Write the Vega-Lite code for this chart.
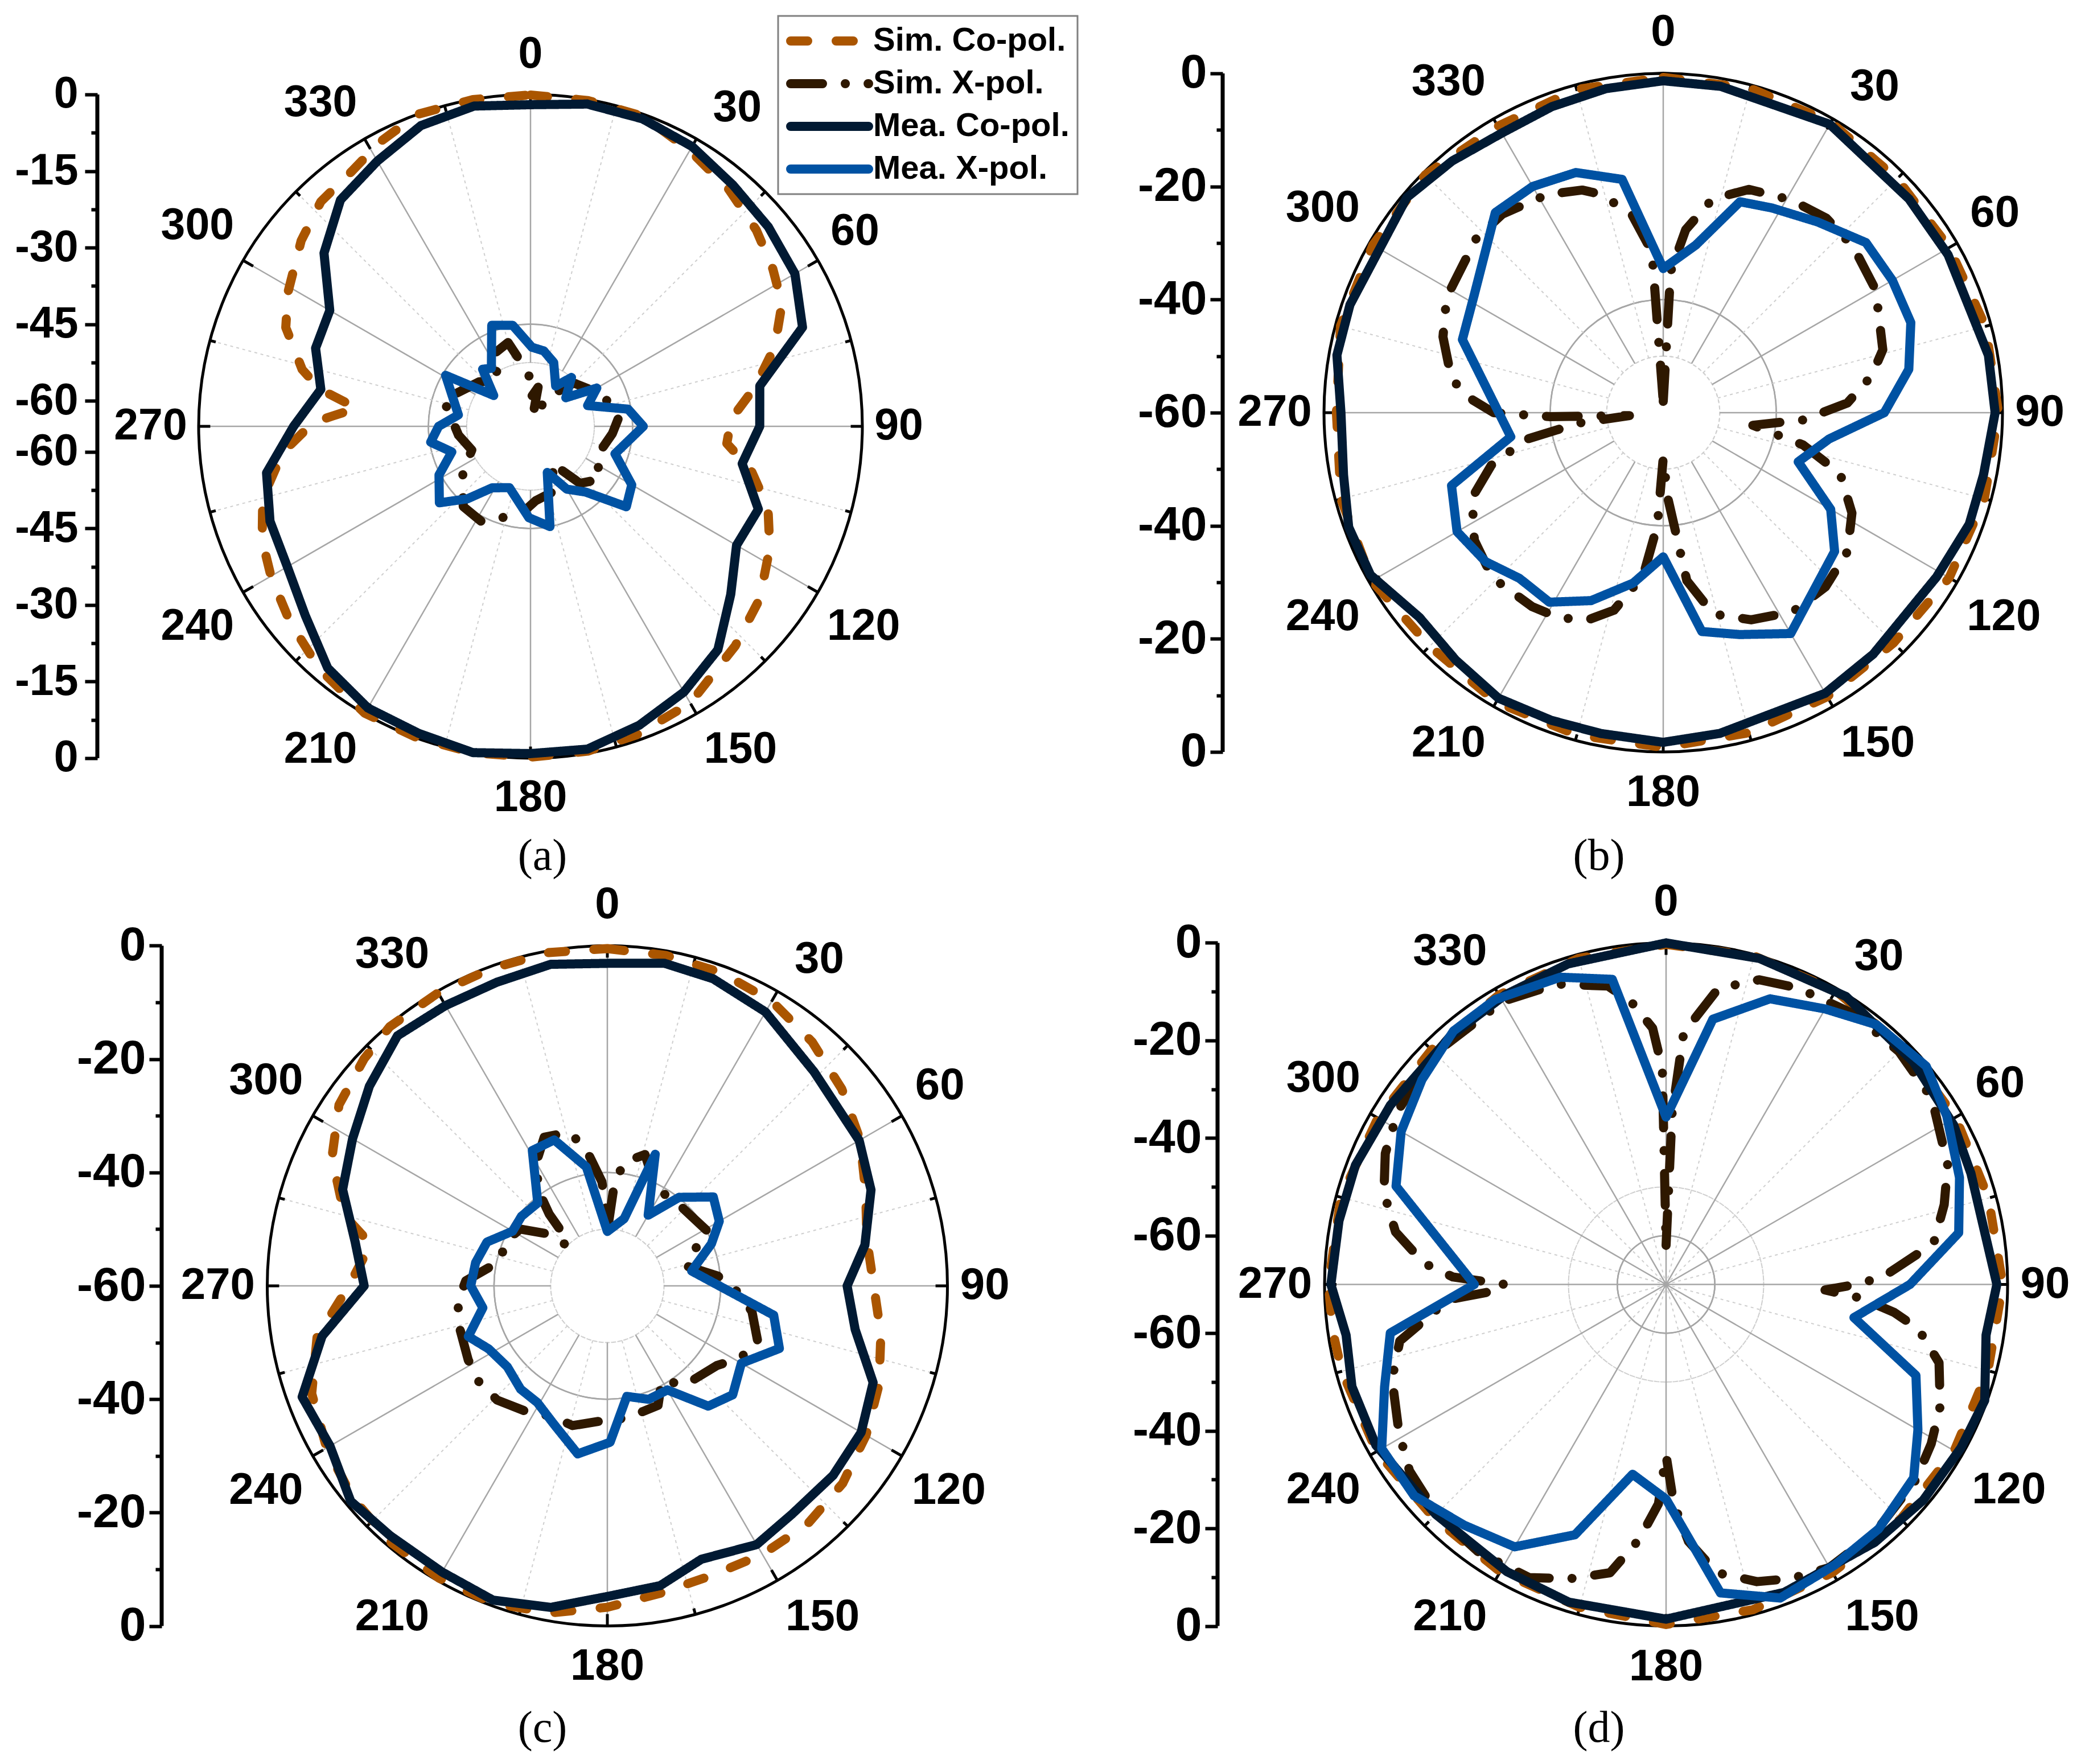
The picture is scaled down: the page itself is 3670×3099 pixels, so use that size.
{
"$schema":"https://vega.github.io/schema/vega-lite/v6.json",
"background":"white",
"padding":0,
"columns":2,
"spacing":0,
"bounds":"flush",
"resolve":{"scale":{"x":"independent","y":"independent","radius":"independent","color":"shared","strokeDash":"shared"},"legend":{"color":"shared","strokeDash":"shared"}},
"config":{"view":{"stroke":null},"font":"Liberation Sans","legend":{"strokeWidth":3}},
"datasets":{
"ang30":[{"angle":0},{"angle":30},{"angle":60},{"angle":90},{"angle":120},{"angle":150},{"angle":180},{"angle":210},{"angle":240},{"angle":270},{"angle":300},{"angle":330}],
"ang15":[{"angle":15},{"angle":45},{"angle":75},{"angle":105},{"angle":135},{"angle":165},{"angle":195},{"angle":225},{"angle":255},{"angle":285},{"angle":315},{"angle":345}],
"angall":[{"angle":0},{"angle":15},{"angle":30},{"angle":45},{"angle":60},{"angle":75},{"angle":90},{"angle":105},{"angle":120},{"angle":135},{"angle":150},{"angle":165},{"angle":180},{"angle":195},{"angle":210},{"angle":225},{"angle":240},{"angle":255},{"angle":270},{"angle":285},{"angle":300},{"angle":315},{"angle":330},{"angle":345}],
"curves":[
{"panel":"a","series":"Sim. Co-pol.","angle":0,"dB":-0.1},{"panel":"a","series":"Sim. Co-pol.","angle":10,"dB":-0.2},{"panel":"a","series":"Sim. Co-pol.","angle":20,"dB":-0.4},{"panel":"a","series":"Sim. Co-pol.","angle":30,"dB":-2.6},{"panel":"a","series":"Sim. Co-pol.","angle":40,"dB":-4.5},{"panel":"a","series":"Sim. Co-pol.","angle":49,"dB":-6.4},{"panel":"a","series":"Sim. Co-pol.","angle":57,"dB":-8.4},{"panel":"a","series":"Sim. Co-pol.","angle":64,"dB":-10.2},{"panel":"a","series":"Sim. Co-pol.","angle":72,"dB":-14.7},{"panel":"a","series":"Sim. Co-pol.","angle":80,"dB":-20.3},{"panel":"a","series":"Sim. Co-pol.","angle":88,"dB":-25.7},{"panel":"a","series":"Sim. Co-pol.","angle":95,"dB":-26.4},{"panel":"a","series":"Sim. Co-pol.","angle":101,"dB":-21.1},{"panel":"a","series":"Sim. Co-pol.","angle":109,"dB":-15.8},{"panel":"a","series":"Sim. Co-pol.","angle":117,"dB":-12.4},{"panel":"a","series":"Sim. Co-pol.","angle":127,"dB":-8.8},{"panel":"a","series":"Sim. Co-pol.","angle":137,"dB":-6.2},{"panel":"a","series":"Sim. Co-pol.","angle":150,"dB":-2.4},{"panel":"a","series":"Sim. Co-pol.","angle":161,"dB":-1.1},{"panel":"a","series":"Sim. Co-pol.","angle":170,"dB":-0.4},{"panel":"a","series":"Sim. Co-pol.","angle":180,"dB":-0.2},{"panel":"a","series":"Sim. Co-pol.","angle":190,"dB":-0.1},{"panel":"a","series":"Sim. Co-pol.","angle":200,"dB":-0.1},{"panel":"a","series":"Sim. Co-pol.","angle":210,"dB":-0.1},{"panel":"a","series":"Sim. Co-pol.","angle":221,"dB":-2.0},{"panel":"a","series":"Sim. Co-pol.","angle":231,"dB":-4.3},{"panel":"a","series":"Sim. Co-pol.","angle":240,"dB":-6.3},{"panel":"a","series":"Sim. Co-pol.","angle":247,"dB":-7.9},{"panel":"a","series":"Sim. Co-pol.","angle":255,"dB":-10.7},{"panel":"a","series":"Sim. Co-pol.","angle":264,"dB":-16.2},{"panel":"a","series":"Sim. Co-pol.","angle":271,"dB":-22.4},{"panel":"a","series":"Sim. Co-pol.","angle":273,"dB":-26.2},{"panel":"a","series":"Sim. Co-pol.","angle":276,"dB":-30.8},{"panel":"a","series":"Sim. Co-pol.","angle":280,"dB":-23.1},{"panel":"a","series":"Sim. Co-pol.","angle":284,"dB":-18.9},{"panel":"a","series":"Sim. Co-pol.","angle":292,"dB":-13.3},{"panel":"a","series":"Sim. Co-pol.","angle":299,"dB":-10.7},{"panel":"a","series":"Sim. Co-pol.","angle":309,"dB":-7.2},{"panel":"a","series":"Sim. Co-pol.","angle":317,"dB":-4.8},{"panel":"a","series":"Sim. Co-pol.","angle":325,"dB":-4.0},{"panel":"a","series":"Sim. Co-pol.","angle":332,"dB":-2.0},{"panel":"a","series":"Sim. Co-pol.","angle":340,"dB":0},{"panel":"a","series":"Sim. Co-pol.","angle":350,"dB":0},
{"panel":"a","series":"Sim. X-pol.","angle":3,"dB":-59},{"panel":"a","series":"Sim. X-pol.","angle":11,"dB":-57.2},{"panel":"a","series":"Sim. X-pol.","angle":13,"dB":-63},{"panel":"a","series":"Sim. X-pol.","angle":32,"dB":-57.9},{"panel":"a","series":"Sim. X-pol.","angle":45,"dB":-53},{"panel":"a","series":"Sim. X-pol.","angle":66,"dB":-49.6},{"panel":"a","series":"Sim. X-pol.","angle":84,"dB":-47.6},{"panel":"a","series":"Sim. X-pol.","angle":95,"dB":-48.9},{"panel":"a","series":"Sim. X-pol.","angle":115,"dB":-50.8},{"panel":"a","series":"Sim. X-pol.","angle":127,"dB":-47.8},{"panel":"a","series":"Sim. X-pol.","angle":139,"dB":-50.2},{"panel":"a","series":"Sim. X-pol.","angle":150,"dB":-56.7},{"panel":"a","series":"Sim. X-pol.","angle":159,"dB":-51.5},{"panel":"a","series":"Sim. X-pol.","angle":176,"dB":-50.4},{"panel":"a","series":"Sim. X-pol.","angle":182,"dB":-49},{"panel":"a","series":"Sim. X-pol.","angle":196,"dB":-46.5},{"panel":"a","series":"Sim. X-pol.","angle":207,"dB":-44},{"panel":"a","series":"Sim. X-pol.","angle":220,"dB":-44.5},{"panel":"a","series":"Sim. X-pol.","angle":236,"dB":-49},{"panel":"a","series":"Sim. X-pol.","angle":248,"dB":-52.6},{"panel":"a","series":"Sim. X-pol.","angle":263,"dB":-50.8},{"panel":"a","series":"Sim. X-pol.","angle":287,"dB":-47.2},{"panel":"a","series":"Sim. X-pol.","angle":311,"dB":-51.7},{"panel":"a","series":"Sim. X-pol.","angle":326,"dB":-54.2},{"panel":"a","series":"Sim. X-pol.","angle":331,"dB":-49.2},{"panel":"a","series":"Sim. X-pol.","angle":345,"dB":-48},{"panel":"a","series":"Sim. X-pol.","angle":358,"dB":-54.7},
{"panel":"a","series":"Mea. Co-pol.","angle":0,"dB":-2},{"panel":"a","series":"Mea. Co-pol.","angle":10,"dB":-0.9},{"panel":"a","series":"Mea. Co-pol.","angle":20,"dB":-0.9},{"panel":"a","series":"Mea. Co-pol.","angle":30,"dB":-1.7},{"panel":"a","series":"Mea. Co-pol.","angle":40,"dB":-3.3},{"panel":"a","series":"Mea. Co-pol.","angle":50,"dB":-4.2},{"panel":"a","series":"Mea. Co-pol.","angle":60,"dB":-5.2},{"panel":"a","series":"Mea. Co-pol.","angle":70,"dB":-8.3},{"panel":"a","series":"Mea. Co-pol.","angle":80,"dB":-19.4},{"panel":"a","series":"Mea. Co-pol.","angle":90,"dB":-20.1},{"panel":"a","series":"Mea. Co-pol.","angle":100,"dB":-22.9},{"panel":"a","series":"Mea. Co-pol.","angle":110,"dB":-17.5},{"panel":"a","series":"Mea. Co-pol.","angle":120,"dB":-18.4},{"panel":"a","series":"Mea. Co-pol.","angle":130,"dB":-13.8},{"panel":"a","series":"Mea. Co-pol.","angle":140,"dB":-7.9},{"panel":"a","series":"Mea. Co-pol.","angle":150,"dB":-4.9},{"panel":"a","series":"Mea. Co-pol.","angle":160,"dB":-2.7},{"panel":"a","series":"Mea. Co-pol.","angle":170,"dB":-0.8},{"panel":"a","series":"Mea. Co-pol.","angle":180,"dB":-0.9},{"panel":"a","series":"Mea. Co-pol.","angle":190,"dB":-0.1},{"panel":"a","series":"Mea. Co-pol.","angle":200,"dB":-1},{"panel":"a","series":"Mea. Co-pol.","angle":210,"dB":-1.3},{"panel":"a","series":"Mea. Co-pol.","angle":220,"dB":-3.2},{"panel":"a","series":"Mea. Co-pol.","angle":230,"dB":-7.4},{"panel":"a","series":"Mea. Co-pol.","angle":240,"dB":-10},{"panel":"a","series":"Mea. Co-pol.","angle":250,"dB":-10.7},{"panel":"a","series":"Mea. Co-pol.","angle":260,"dB":-12.5},{"panel":"a","series":"Mea. Co-pol.","angle":270,"dB":-18.6},{"panel":"a","series":"Mea. Co-pol.","angle":280,"dB":-23.3},{"panel":"a","series":"Mea. Co-pol.","angle":290,"dB":-20.2},{"panel":"a","series":"Mea. Co-pol.","angle":300,"dB":-19.6},{"panel":"a","series":"Mea. Co-pol.","angle":310,"dB":-12.2},{"panel":"a","series":"Mea. Co-pol.","angle":320,"dB":-7.1},{"panel":"a","series":"Mea. Co-pol.","angle":330,"dB":-5},{"panel":"a","series":"Mea. Co-pol.","angle":340,"dB":-2.3},{"panel":"a","series":"Mea. Co-pol.","angle":350,"dB":-1.3},
{"panel":"a","series":"Mea. X-pol.","angle":1,"dB":-49.5},{"panel":"a","series":"Mea. X-pol.","angle":10,"dB":-50},{"panel":"a","series":"Mea. X-pol.","angle":20,"dB":-51.7},{"panel":"a","series":"Mea. X-pol.","angle":32,"dB":-55.7},{"panel":"a","series":"Mea. X-pol.","angle":40,"dB":-52.5},{"panel":"a","series":"Mea. X-pol.","angle":51,"dB":-56.1},{"panel":"a","series":"Mea. X-pol.","angle":60,"dB":-50},{"panel":"a","series":"Mea. X-pol.","angle":70,"dB":-53.1},{"panel":"a","series":"Mea. X-pol.","angle":80,"dB":-45.6},{"panel":"a","series":"Mea. X-pol.","angle":90,"dB":-42.9},{"panel":"a","series":"Mea. X-pol.","angle":108,"dB":-47.6},{"panel":"a","series":"Mea. X-pol.","angle":120,"dB":-42.1},{"panel":"a","series":"Mea. X-pol.","angle":130,"dB":-40.5},{"panel":"a","series":"Mea. X-pol.","angle":140,"dB":-48.2},{"panel":"a","series":"Mea. X-pol.","angle":150,"dB":-50.8},{"panel":"a","series":"Mea. X-pol.","angle":160,"dB":-55.4},{"panel":"a","series":"Mea. X-pol.","angle":169,"dB":-45},{"panel":"a","series":"Mea. X-pol.","angle":181,"dB":-47.1},{"panel":"a","series":"Mea. X-pol.","angle":199,"dB":-52.3},{"panel":"a","series":"Mea. X-pol.","angle":212,"dB":-50.8},{"panel":"a","series":"Mea. X-pol.","angle":221,"dB":-46.2},{"panel":"a","series":"Mea. X-pol.","angle":230,"dB":-41.7},{"panel":"a","series":"Mea. X-pol.","angle":242,"dB":-44.7},{"panel":"a","series":"Mea. X-pol.","angle":252,"dB":-48.8},{"panel":"a","series":"Mea. X-pol.","angle":261,"dB":-45.2},{"panel":"a","series":"Mea. X-pol.","angle":270,"dB":-47},{"panel":"a","series":"Mea. X-pol.","angle":279,"dB":-50.7},{"panel":"a","series":"Mea. X-pol.","angle":301,"dB":-45.6},{"panel":"a","series":"Mea. X-pol.","angle":310,"dB":-55.6},{"panel":"a","series":"Mea. X-pol.","angle":320,"dB":-50.4},{"panel":"a","series":"Mea. X-pol.","angle":326,"dB":-51.3},{"panel":"a","series":"Mea. X-pol.","angle":339,"dB":-43.8},{"panel":"a","series":"Mea. X-pol.","angle":350,"dB":-44.9},
{"panel":"b","series":"Sim. Co-pol.","angle":0,"dB":-0.7},{"panel":"b","series":"Sim. Co-pol.","angle":15,"dB":-0.6},{"panel":"b","series":"Sim. Co-pol.","angle":30,"dB":-0.7},{"panel":"b","series":"Sim. Co-pol.","angle":45,"dB":-1.5},{"panel":"b","series":"Sim. Co-pol.","angle":60,"dB":-1.6},{"panel":"b","series":"Sim. Co-pol.","angle":75,"dB":-1},{"panel":"b","series":"Sim. Co-pol.","angle":90,"dB":-0.7},{"panel":"b","series":"Sim. Co-pol.","angle":105,"dB":-1.2},{"panel":"b","series":"Sim. Co-pol.","angle":120,"dB":-1.6},{"panel":"b","series":"Sim. Co-pol.","angle":135,"dB":-2.4},{"panel":"b","series":"Sim. Co-pol.","angle":150,"dB":-2},{"panel":"b","series":"Sim. Co-pol.","angle":165,"dB":-1.4},{"panel":"b","series":"Sim. Co-pol.","angle":180,"dB":-0.8},{"panel":"b","series":"Sim. Co-pol.","angle":195,"dB":-1},{"panel":"b","series":"Sim. Co-pol.","angle":210,"dB":-0.9},{"panel":"b","series":"Sim. Co-pol.","angle":225,"dB":-1.6},{"panel":"b","series":"Sim. Co-pol.","angle":240,"dB":-0.5},{"panel":"b","series":"Sim. Co-pol.","angle":255,"dB":-1},{"panel":"b","series":"Sim. Co-pol.","angle":270,"dB":-2.2},{"panel":"b","series":"Sim. Co-pol.","angle":285,"dB":-0.9},{"panel":"b","series":"Sim. Co-pol.","angle":300,"dB":-0.7},{"panel":"b","series":"Sim. Co-pol.","angle":315,"dB":-0.5},{"panel":"b","series":"Sim. Co-pol.","angle":330,"dB":-1.5},{"panel":"b","series":"Sim. Co-pol.","angle":345,"dB":-0.8},
{"panel":"b","series":"Sim. X-pol.","angle":0,"dB":-58},{"panel":"b","series":"Sim. X-pol.","angle":3,"dB":-35},{"panel":"b","series":"Sim. X-pol.","angle":7,"dB":-27.4},{"panel":"b","series":"Sim. X-pol.","angle":13,"dB":-21.2},{"panel":"b","series":"Sim. X-pol.","angle":21,"dB":-17.7},{"panel":"b","series":"Sim. X-pol.","angle":31,"dB":-16.1},{"panel":"b","series":"Sim. X-pol.","angle":40,"dB":-15.1},{"panel":"b","series":"Sim. X-pol.","angle":49,"dB":-15.4},{"panel":"b","series":"Sim. X-pol.","angle":60,"dB":-16.6},{"panel":"b","series":"Sim. X-pol.","angle":74,"dB":-19.6},{"panel":"b","series":"Sim. X-pol.","angle":80,"dB":-22.6},{"panel":"b","series":"Sim. X-pol.","angle":87,"dB":-27.4},{"panel":"b","series":"Sim. X-pol.","angle":93,"dB":-35.3},{"panel":"b","series":"Sim. X-pol.","angle":98,"dB":-44},{"panel":"b","series":"Sim. X-pol.","angle":103,"dB":-34.6},{"panel":"b","series":"Sim. X-pol.","angle":109,"dB":-26.9},{"panel":"b","series":"Sim. X-pol.","angle":118,"dB":-22.2},{"panel":"b","series":"Sim. X-pol.","angle":127,"dB":-19.2},{"panel":"b","series":"Sim. X-pol.","angle":137,"dB":-17.9},{"panel":"b","series":"Sim. X-pol.","angle":147,"dB":-18},{"panel":"b","series":"Sim. X-pol.","angle":157,"dB":-20.2},{"panel":"b","series":"Sim. X-pol.","angle":166,"dB":-23.3},{"panel":"b","series":"Sim. X-pol.","angle":172,"dB":-30},{"panel":"b","series":"Sim. X-pol.","angle":177,"dB":-45},{"panel":"b","series":"Sim. X-pol.","angle":180,"dB":-52},{"panel":"b","series":"Sim. X-pol.","angle":183,"dB":-40},{"panel":"b","series":"Sim. X-pol.","angle":187,"dB":-31},{"panel":"b","series":"Sim. X-pol.","angle":194,"dB":-24},{"panel":"b","series":"Sim. X-pol.","angle":200,"dB":-21},{"panel":"b","series":"Sim. X-pol.","angle":207,"dB":-19.3},{"panel":"b","series":"Sim. X-pol.","angle":214,"dB":-18.6},{"panel":"b","series":"Sim. X-pol.","angle":226,"dB":-18},{"panel":"b","series":"Sim. X-pol.","angle":236,"dB":-19.7},{"panel":"b","series":"Sim. X-pol.","angle":246,"dB":-23},{"panel":"b","series":"Sim. X-pol.","angle":253,"dB":-28.2},{"panel":"b","series":"Sim. X-pol.","angle":259,"dB":-35.4},{"panel":"b","series":"Sim. X-pol.","angle":263,"dB":-45},{"panel":"b","series":"Sim. X-pol.","angle":265,"dB":-54},{"panel":"b","series":"Sim. X-pol.","angle":268,"dB":-40},{"panel":"b","series":"Sim. X-pol.","angle":270,"dB":-30},{"panel":"b","series":"Sim. X-pol.","angle":274,"dB":-26},{"panel":"b","series":"Sim. X-pol.","angle":279,"dB":-22.1},{"panel":"b","series":"Sim. X-pol.","angle":289,"dB":-18.8},{"panel":"b","series":"Sim. X-pol.","angle":298,"dB":-16.6},{"panel":"b","series":"Sim. X-pol.","angle":313,"dB":-14.8},{"panel":"b","series":"Sim. X-pol.","angle":321,"dB":-14.8},{"panel":"b","series":"Sim. X-pol.","angle":332,"dB":-16.3},{"panel":"b","series":"Sim. X-pol.","angle":340,"dB":-18.1},{"panel":"b","series":"Sim. X-pol.","angle":344,"dB":-19.8},{"panel":"b","series":"Sim. X-pol.","angle":351,"dB":-24.5},{"panel":"b","series":"Sim. X-pol.","angle":356,"dB":-31.5},
{"panel":"b","series":"Mea. Co-pol.","angle":0,"dB":-1.3},{"panel":"b","series":"Mea. Co-pol.","angle":10,"dB":-1.4},{"panel":"b","series":"Mea. Co-pol.","angle":30,"dB":-1.1},{"panel":"b","series":"Mea. Co-pol.","angle":49,"dB":-2.4},{"panel":"b","series":"Mea. Co-pol.","angle":61,"dB":-2.4},{"panel":"b","series":"Mea. Co-pol.","angle":80,"dB":-1.6},{"panel":"b","series":"Mea. Co-pol.","angle":90,"dB":-1.3},{"panel":"b","series":"Mea. Co-pol.","angle":101,"dB":-2.3},{"panel":"b","series":"Mea. Co-pol.","angle":110,"dB":-2.4},{"panel":"b","series":"Mea. Co-pol.","angle":121,"dB":-3.6},{"panel":"b","series":"Mea. Co-pol.","angle":139,"dB":-3.4},{"panel":"b","series":"Mea. Co-pol.","angle":150,"dB":-2.7},{"panel":"b","series":"Mea. Co-pol.","angle":170,"dB":-2.4},{"panel":"b","series":"Mea. Co-pol.","angle":180,"dB":-1.7},{"panel":"b","series":"Mea. Co-pol.","angle":191,"dB":-2.2},{"panel":"b","series":"Mea. Co-pol.","angle":200,"dB":-2.1},{"panel":"b","series":"Mea. Co-pol.","angle":210,"dB":-1.7},{"panel":"b","series":"Mea. Co-pol.","angle":220,"dB":-2.9},{"panel":"b","series":"Mea. Co-pol.","angle":230,"dB":-3.7},{"panel":"b","series":"Mea. Co-pol.","angle":241,"dB":-0.8},{"panel":"b","series":"Mea. Co-pol.","angle":250,"dB":-0.8},{"panel":"b","series":"Mea. Co-pol.","angle":259,"dB":-2.4},{"panel":"b","series":"Mea. Co-pol.","angle":270,"dB":-3},{"panel":"b","series":"Mea. Co-pol.","angle":280,"dB":-1.4},{"panel":"b","series":"Mea. Co-pol.","angle":289,"dB":-1.4},{"panel":"b","series":"Mea. Co-pol.","angle":310,"dB":-0.8},{"panel":"b","series":"Mea. Co-pol.","angle":320,"dB":-1.9},{"panel":"b","series":"Mea. Co-pol.","angle":330,"dB":-2.9},{"panel":"b","series":"Mea. Co-pol.","angle":340,"dB":-2.4},{"panel":"b","series":"Mea. Co-pol.","angle":350,"dB":-1.8},
{"panel":"b","series":"Mea. X-pol.","angle":0,"dB":-34.5},{"panel":"b","series":"Mea. X-pol.","angle":11,"dB":-29.8},{"panel":"b","series":"Mea. X-pol.","angle":20,"dB":-20.3},{"panel":"b","series":"Mea. X-pol.","angle":28,"dB":-19},{"panel":"b","series":"Mea. X-pol.","angle":39,"dB":-16.6},{"panel":"b","series":"Mea. X-pol.","angle":50,"dB":-13.2},{"panel":"b","series":"Mea. X-pol.","angle":60,"dB":-13.2},{"panel":"b","series":"Mea. X-pol.","angle":70,"dB":-13.4},{"panel":"b","series":"Mea. X-pol.","angle":80,"dB":-15.9},{"panel":"b","series":"Mea. X-pol.","angle":90,"dB":-20.9},{"panel":"b","series":"Mea. X-pol.","angle":99,"dB":-30.3},{"panel":"b","series":"Mea. X-pol.","angle":110,"dB":-34.6},{"panel":"b","series":"Mea. X-pol.","angle":120,"dB":-25.8},{"panel":"b","series":"Mea. X-pol.","angle":129,"dB":-21},{"panel":"b","series":"Mea. X-pol.","angle":150,"dB":-14.9},{"panel":"b","series":"Mea. X-pol.","angle":161,"dB":-18.5},{"panel":"b","series":"Mea. X-pol.","angle":170,"dB":-20.7},{"panel":"b","series":"Mea. X-pol.","angle":180,"dB":-34.5},{"panel":"b","series":"Mea. X-pol.","angle":190,"dB":-29.4},{"panel":"b","series":"Mea. X-pol.","angle":201,"dB":-24.4},{"panel":"b","series":"Mea. X-pol.","angle":211,"dB":-20.9},{"panel":"b","series":"Mea. X-pol.","angle":221,"dB":-21.2},{"panel":"b","series":"Mea. X-pol.","angle":230,"dB":-19},{"panel":"b","series":"Mea. X-pol.","angle":240,"dB":-17.9},{"panel":"b","series":"Mea. X-pol.","angle":251,"dB":-20.4},{"panel":"b","series":"Mea. X-pol.","angle":261,"dB":-32.7},{"panel":"b","series":"Mea. X-pol.","angle":290,"dB":-22.2},{"panel":"b","series":"Mea. X-pol.","angle":302,"dB":-20.6},{"panel":"b","series":"Mea. X-pol.","angle":320,"dB":-13.8},{"panel":"b","series":"Mea. X-pol.","angle":330,"dB":-13.8},{"panel":"b","series":"Mea. X-pol.","angle":340,"dB":-14.8},{"panel":"b","series":"Mea. X-pol.","angle":350,"dB":-18.1},
{"panel":"c","series":"Sim. Co-pol.","angle":0,"dB":-0.5},{"panel":"c","series":"Sim. Co-pol.","angle":10,"dB":-0.8},{"panel":"c","series":"Sim. Co-pol.","angle":20,"dB":-1.2},{"panel":"c","series":"Sim. Co-pol.","angle":30,"dB":-2},{"panel":"c","series":"Sim. Co-pol.","angle":40,"dB":-3.8},{"panel":"c","series":"Sim. Co-pol.","angle":50,"dB":-6},{"panel":"c","series":"Sim. Co-pol.","angle":60,"dB":-8.5},{"panel":"c","series":"Sim. Co-pol.","angle":70,"dB":-11.5},{"panel":"c","series":"Sim. Co-pol.","angle":80,"dB":-13.5},{"panel":"c","series":"Sim. Co-pol.","angle":90,"dB":-13},{"panel":"c","series":"Sim. Co-pol.","angle":100,"dB":-11},{"panel":"c","series":"Sim. Co-pol.","angle":110,"dB":-9},{"panel":"c","series":"Sim. Co-pol.","angle":120,"dB":-7.3},{"panel":"c","series":"Sim. Co-pol.","angle":130,"dB":-5.8},{"panel":"c","series":"Sim. Co-pol.","angle":140,"dB":-5.1},{"panel":"c","series":"Sim. Co-pol.","angle":150,"dB":-5.3},{"panel":"c","series":"Sim. Co-pol.","angle":160,"dB":-5.7},{"panel":"c","series":"Sim. Co-pol.","angle":170,"dB":-5},{"panel":"c","series":"Sim. Co-pol.","angle":180,"dB":-3.3},{"panel":"c","series":"Sim. Co-pol.","angle":190,"dB":-1.4},{"panel":"c","series":"Sim. Co-pol.","angle":200,"dB":-0.5},{"panel":"c","series":"Sim. Co-pol.","angle":210,"dB":-0.5},{"panel":"c","series":"Sim. Co-pol.","angle":220,"dB":-0.8},{"panel":"c","series":"Sim. Co-pol.","angle":230,"dB":-1.5},{"panel":"c","series":"Sim. Co-pol.","angle":240,"dB":-2.8},{"panel":"c","series":"Sim. Co-pol.","angle":250,"dB":-4.5},{"panel":"c","series":"Sim. Co-pol.","angle":260,"dB":-8},{"panel":"c","series":"Sim. Co-pol.","angle":270,"dB":-14.4},{"panel":"c","series":"Sim. Co-pol.","angle":280,"dB":-17.6},{"panel":"c","series":"Sim. Co-pol.","angle":285,"dB":-12},{"panel":"c","series":"Sim. Co-pol.","angle":295,"dB":-6.4},{"panel":"c","series":"Sim. Co-pol.","angle":304,"dB":-2.9},{"panel":"c","series":"Sim. Co-pol.","angle":313,"dB":-1.3},{"panel":"c","series":"Sim. Co-pol.","angle":320,"dB":-0.3},{"panel":"c","series":"Sim. Co-pol.","angle":330,"dB":-0.3},{"panel":"c","series":"Sim. Co-pol.","angle":340,"dB":-0.4},{"panel":"c","series":"Sim. Co-pol.","angle":350,"dB":-0.3},
{"panel":"c","series":"Sim. X-pol.","angle":1,"dB":-49},{"panel":"c","series":"Sim. X-pol.","angle":4,"dB":-41.6},{"panel":"c","series":"Sim. X-pol.","angle":8,"dB":-37.9},{"panel":"c","series":"Sim. X-pol.","angle":16,"dB":-35.9},{"panel":"c","series":"Sim. X-pol.","angle":26,"dB":-40.6},{"panel":"c","series":"Sim. X-pol.","angle":34,"dB":-41},{"panel":"c","series":"Sim. X-pol.","angle":43,"dB":-40.9},{"panel":"c","series":"Sim. X-pol.","angle":62,"dB":-39.8},{"panel":"c","series":"Sim. X-pol.","angle":67,"dB":-43.1},{"panel":"c","series":"Sim. X-pol.","angle":76,"dB":-45.6},{"panel":"c","series":"Sim. X-pol.","angle":85,"dB":-40.4},{"panel":"c","series":"Sim. X-pol.","angle":92,"dB":-37.3},{"panel":"c","series":"Sim. X-pol.","angle":100,"dB":-34.1},{"panel":"c","series":"Sim. X-pol.","angle":111,"dB":-31.5},{"panel":"c","series":"Sim. X-pol.","angle":119,"dB":-33.5},{"panel":"c","series":"Sim. X-pol.","angle":126,"dB":-36.1},{"panel":"c","series":"Sim. X-pol.","angle":142,"dB":-37.8},{"panel":"c","series":"Sim. X-pol.","angle":150,"dB":-40.8},{"panel":"c","series":"Sim. X-pol.","angle":157,"dB":-37.1},{"panel":"c","series":"Sim. X-pol.","angle":172,"dB":-36.4},{"panel":"c","series":"Sim. X-pol.","angle":179,"dB":-36.4},{"panel":"c","series":"Sim. X-pol.","angle":194,"dB":-34.6},{"panel":"c","series":"Sim. X-pol.","angle":203,"dB":-35},{"panel":"c","series":"Sim. X-pol.","angle":212,"dB":-33.7},{"panel":"c","series":"Sim. X-pol.","angle":224,"dB":-32},{"panel":"c","series":"Sim. X-pol.","angle":233,"dB":-31.7},{"panel":"c","series":"Sim. X-pol.","angle":242,"dB":-32.2},{"panel":"c","series":"Sim. X-pol.","angle":255,"dB":-32.9},{"panel":"c","series":"Sim. X-pol.","angle":264,"dB":-33.5},{"panel":"c","series":"Sim. X-pol.","angle":272,"dB":-35},{"panel":"c","series":"Sim. X-pol.","angle":283,"dB":-40.6},{"panel":"c","series":"Sim. X-pol.","angle":293,"dB":-40.4},{"panel":"c","series":"Sim. X-pol.","angle":303,"dB":-41.6},{"panel":"c","series":"Sim. X-pol.","angle":311,"dB":-46},{"panel":"c","series":"Sim. X-pol.","angle":315,"dB":-49.9},{"panel":"c","series":"Sim. X-pol.","angle":319,"dB":-49.1},{"panel":"c","series":"Sim. X-pol.","angle":321,"dB":-43.7},{"panel":"c","series":"Sim. X-pol.","angle":324,"dB":-39.4},{"panel":"c","series":"Sim. X-pol.","angle":330,"dB":-34.9},{"panel":"c","series":"Sim. X-pol.","angle":337,"dB":-31.5},{"panel":"c","series":"Sim. X-pol.","angle":346,"dB":-32.1},{"panel":"c","series":"Sim. X-pol.","angle":351,"dB":-35.4},{"panel":"c","series":"Sim. X-pol.","angle":357,"dB":-41.6},
{"panel":"c","series":"Mea. Co-pol.","angle":0,"dB":-3.1},{"panel":"c","series":"Mea. Co-pol.","angle":10,"dB":-2.2},{"panel":"c","series":"Mea. Co-pol.","angle":19,"dB":-2.7},{"panel":"c","series":"Mea. Co-pol.","angle":30,"dB":-4.2},{"panel":"c","series":"Mea. Co-pol.","angle":44,"dB":-7.5},{"panel":"c","series":"Mea. Co-pol.","angle":60,"dB":-8.7},{"panel":"c","series":"Mea. Co-pol.","angle":70,"dB":-10.5},{"panel":"c","series":"Mea. Co-pol.","angle":81,"dB":-14},{"panel":"c","series":"Mea. Co-pol.","angle":90,"dB":-17.7},{"panel":"c","series":"Mea. Co-pol.","angle":100,"dB":-15.6},{"panel":"c","series":"Mea. Co-pol.","angle":110,"dB":-10.1},{"panel":"c","series":"Mea. Co-pol.","angle":120,"dB":-8.3},{"panel":"c","series":"Mea. Co-pol.","angle":130,"dB":-8},{"panel":"c","series":"Mea. Co-pol.","angle":141,"dB":-8.2},{"panel":"c","series":"Mea. Co-pol.","angle":150,"dB":-7.3},{"panel":"c","series":"Mea. Co-pol.","angle":161,"dB":-9},{"panel":"c","series":"Mea. Co-pol.","angle":170,"dB":-6.3},{"panel":"c","series":"Mea. Co-pol.","angle":180,"dB":-5.2},{"panel":"c","series":"Mea. Co-pol.","angle":190,"dB":-2.4},{"panel":"c","series":"Mea. Co-pol.","angle":200,"dB":-1},{"panel":"c","series":"Mea. Co-pol.","angle":210,"dB":-1.7},{"panel":"c","series":"Mea. Co-pol.","angle":221,"dB":-1.6},{"panel":"c","series":"Mea. Co-pol.","angle":230,"dB":-0.9},{"panel":"c","series":"Mea. Co-pol.","angle":240,"dB":-3.5},{"panel":"c","series":"Mea. Co-pol.","angle":250,"dB":-2.7},{"panel":"c","series":"Mea. Co-pol.","angle":260,"dB":-8.9},{"panel":"c","series":"Mea. Co-pol.","angle":270,"dB":-17.1},{"panel":"c","series":"Mea. Co-pol.","angle":280,"dB":-14.8},{"panel":"c","series":"Mea. Co-pol.","angle":290,"dB":-10.3},{"panel":"c","series":"Mea. Co-pol.","angle":300,"dB":-8.1},{"panel":"c","series":"Mea. Co-pol.","angle":310,"dB":-5.2},{"panel":"c","series":"Mea. Co-pol.","angle":320,"dB":-2.4},{"panel":"c","series":"Mea. Co-pol.","angle":330,"dB":-2.9},{"panel":"c","series":"Mea. Co-pol.","angle":340,"dB":-3},{"panel":"c","series":"Mea. Co-pol.","angle":350,"dB":-2.4},
{"panel":"c","series":"Mea. X-pol.","angle":0,"dB":-50.4},{"panel":"c","series":"Mea. X-pol.","angle":14,"dB":-47.8},{"panel":"c","series":"Mea. X-pol.","angle":20,"dB":-35.3},{"panel":"c","series":"Mea. X-pol.","angle":30,"dB":-45.6},{"panel":"c","series":"Mea. X-pol.","angle":39,"dB":-39.9},{"panel":"c","series":"Mea. X-pol.","angle":50,"dB":-35.6},{"panel":"c","series":"Mea. X-pol.","angle":60,"dB":-37.2},{"panel":"c","series":"Mea. X-pol.","angle":68,"dB":-40.2},{"panel":"c","series":"Mea. X-pol.","angle":80,"dB":-44.9},{"panel":"c","series":"Mea. X-pol.","angle":100,"dB":-30.2},{"panel":"c","series":"Mea. X-pol.","angle":110,"dB":-27.7},{"panel":"c","series":"Mea. X-pol.","angle":120,"dB":-32.7},{"panel":"c","series":"Mea. X-pol.","angle":131,"dB":-30.7},{"panel":"c","series":"Mea. X-pol.","angle":140,"dB":-32.3},{"panel":"c","series":"Mea. X-pol.","angle":150,"dB":-38.8},{"panel":"c","series":"Mea. X-pol.","angle":160,"dB":-38.7},{"panel":"c","series":"Mea. X-pol.","angle":170,"dB":-40.2},{"panel":"c","series":"Mea. X-pol.","angle":179,"dB":-32.4},{"panel":"c","series":"Mea. X-pol.","angle":190,"dB":-29.9},{"panel":"c","series":"Mea. X-pol.","angle":201,"dB":-33.8},{"panel":"c","series":"Mea. X-pol.","angle":211,"dB":-36},{"panel":"c","series":"Mea. X-pol.","angle":220,"dB":-36.2},{"panel":"c","series":"Mea. X-pol.","angle":231,"dB":-37.3},{"panel":"c","series":"Mea. X-pol.","angle":242,"dB":-36.3},{"panel":"c","series":"Mea. X-pol.","angle":250,"dB":-33.9},{"panel":"c","series":"Mea. X-pol.","angle":260,"dB":-37.7},{"panel":"c","series":"Mea. X-pol.","angle":270,"dB":-35.9},{"panel":"c","series":"Mea. X-pol.","angle":280,"dB":-36.4},{"panel":"c","series":"Mea. X-pol.","angle":290,"dB":-37.4},{"panel":"c","series":"Mea. X-pol.","angle":300,"dB":-40.7},{"panel":"c","series":"Mea. X-pol.","angle":309,"dB":-40.5},{"panel":"c","series":"Mea. X-pol.","angle":320,"dB":-40.9},{"panel":"c","series":"Mea. X-pol.","angle":331,"dB":-32.7},{"panel":"c","series":"Mea. X-pol.","angle":340,"dB":-32.6},{"panel":"c","series":"Mea. X-pol.","angle":350,"dB":-38.7},
{"panel":"d","series":"Sim. Co-pol.","angle":0,"dB":-0.3},{"panel":"d","series":"Sim. Co-pol.","angle":15,"dB":-0.3},{"panel":"d","series":"Sim. Co-pol.","angle":30,"dB":-0.5},{"panel":"d","series":"Sim. Co-pol.","angle":45,"dB":-1.2},{"panel":"d","series":"Sim. Co-pol.","angle":60,"dB":-1.5},{"panel":"d","series":"Sim. Co-pol.","angle":75,"dB":-1.6},{"panel":"d","series":"Sim. Co-pol.","angle":90,"dB":-1},{"panel":"d","series":"Sim. Co-pol.","angle":105,"dB":-1.7},{"panel":"d","series":"Sim. Co-pol.","angle":120,"dB":-1.8},{"panel":"d","series":"Sim. Co-pol.","angle":135,"dB":-2},{"panel":"d","series":"Sim. Co-pol.","angle":150,"dB":-1.8},{"panel":"d","series":"Sim. Co-pol.","angle":165,"dB":-1},{"panel":"d","series":"Sim. Co-pol.","angle":180,"dB":-0.3},{"panel":"d","series":"Sim. Co-pol.","angle":195,"dB":-1.5},{"panel":"d","series":"Sim. Co-pol.","angle":210,"dB":-2},{"panel":"d","series":"Sim. Co-pol.","angle":225,"dB":-2.5},{"panel":"d","series":"Sim. Co-pol.","angle":240,"dB":-1.5},{"panel":"d","series":"Sim. Co-pol.","angle":255,"dB":-1.2},{"panel":"d","series":"Sim. Co-pol.","angle":262,"dB":-1},{"panel":"d","series":"Sim. Co-pol.","angle":270,"dB":-0.8},{"panel":"d","series":"Sim. Co-pol.","angle":285,"dB":-1},{"panel":"d","series":"Sim. Co-pol.","angle":300,"dB":-1.8},{"panel":"d","series":"Sim. Co-pol.","angle":315,"dB":-2},{"panel":"d","series":"Sim. Co-pol.","angle":330,"dB":-1.5},{"panel":"d","series":"Sim. Co-pol.","angle":345,"dB":-0.8},
{"panel":"d","series":"Sim. X-pol.","angle":0,"dB":-62},{"panel":"d","series":"Sim. X-pol.","angle":2,"dB":-35},{"panel":"d","series":"Sim. X-pol.","angle":4,"dB":-18.3},{"panel":"d","series":"Sim. X-pol.","angle":10,"dB":-8.4},{"panel":"d","series":"Sim. X-pol.","angle":17,"dB":-4.7},{"panel":"d","series":"Sim. X-pol.","angle":24,"dB":-3.5},{"panel":"d","series":"Sim. X-pol.","angle":35,"dB":-2.5},{"panel":"d","series":"Sim. X-pol.","angle":45,"dB":-2.5},{"panel":"d","series":"Sim. X-pol.","angle":55,"dB":-3.5},{"panel":"d","series":"Sim. X-pol.","angle":67,"dB":-7.3},{"panel":"d","series":"Sim. X-pol.","angle":74,"dB":-10.7},{"panel":"d","series":"Sim. X-pol.","angle":81,"dB":-14.4},{"panel":"d","series":"Sim. X-pol.","angle":83,"dB":-17.9},{"panel":"d","series":"Sim. X-pol.","angle":88,"dB":-25.5},{"panel":"d","series":"Sim. X-pol.","angle":90,"dB":-31},{"panel":"d","series":"Sim. X-pol.","angle":92,"dB":-37.4},{"panel":"d","series":"Sim. X-pol.","angle":94,"dB":-30},{"panel":"d","series":"Sim. X-pol.","angle":97,"dB":-22.9},{"panel":"d","series":"Sim. X-pol.","angle":100,"dB":-17.5},{"panel":"d","series":"Sim. X-pol.","angle":106,"dB":-11.8},{"panel":"d","series":"Sim. X-pol.","angle":114,"dB":-8.5},{"panel":"d","series":"Sim. X-pol.","angle":121,"dB":-6.6},{"panel":"d","series":"Sim. X-pol.","angle":128,"dB":-5},{"panel":"d","series":"Sim. X-pol.","angle":140,"dB":-3.5},{"panel":"d","series":"Sim. X-pol.","angle":150,"dB":-3},{"panel":"d","series":"Sim. X-pol.","angle":157,"dB":-4.5},{"panel":"d","series":"Sim. X-pol.","angle":163,"dB":-6.3},{"panel":"d","series":"Sim. X-pol.","angle":170,"dB":-10},{"panel":"d","series":"Sim. X-pol.","angle":175,"dB":-17.1},{"panel":"d","series":"Sim. X-pol.","angle":178,"dB":-25},{"panel":"d","series":"Sim. X-pol.","angle":180,"dB":-35},{"panel":"d","series":"Sim. X-pol.","angle":182,"dB":-25},{"panel":"d","series":"Sim. X-pol.","angle":186,"dB":-17.5},{"panel":"d","series":"Sim. X-pol.","angle":191,"dB":-9.8},{"panel":"d","series":"Sim. X-pol.","angle":198,"dB":-6.6},{"panel":"d","series":"Sim. X-pol.","angle":205,"dB":-3.7},{"panel":"d","series":"Sim. X-pol.","angle":215,"dB":-3},{"panel":"d","series":"Sim. X-pol.","angle":225,"dB":-3.5},{"panel":"d","series":"Sim. X-pol.","angle":234,"dB":-5},{"panel":"d","series":"Sim. X-pol.","angle":241,"dB":-7.4},{"panel":"d","series":"Sim. X-pol.","angle":251,"dB":-10.6},{"panel":"d","series":"Sim. X-pol.","angle":258,"dB":-14.2},{"panel":"d","series":"Sim. X-pol.","angle":266,"dB":-25.3},{"panel":"d","series":"Sim. X-pol.","angle":268,"dB":-35.4},{"panel":"d","series":"Sim. X-pol.","angle":270,"dB":-37},{"panel":"d","series":"Sim. X-pol.","angle":272,"dB":-26.3},{"panel":"d","series":"Sim. X-pol.","angle":275,"dB":-20.2},{"panel":"d","series":"Sim. X-pol.","angle":281,"dB":-13.5},{"panel":"d","series":"Sim. X-pol.","angle":288,"dB":-9.2},{"panel":"d","series":"Sim. X-pol.","angle":295,"dB":-6.5},{"panel":"d","series":"Sim. X-pol.","angle":303,"dB":-4.5},{"panel":"d","series":"Sim. X-pol.","angle":315,"dB":-3},{"panel":"d","series":"Sim. X-pol.","angle":330,"dB":-3},{"panel":"d","series":"Sim. X-pol.","angle":340,"dB":-4.5},{"panel":"d","series":"Sim. X-pol.","angle":349,"dB":-7.7},{"panel":"d","series":"Sim. X-pol.","angle":353,"dB":-11.7},{"panel":"d","series":"Sim. X-pol.","angle":357,"dB":-17.4},{"panel":"d","series":"Sim. X-pol.","angle":359,"dB":-25.7},
{"panel":"d","series":"Mea. Co-pol.","angle":0,"dB":0},{"panel":"d","series":"Mea. Co-pol.","angle":16,"dB":-0.5},{"panel":"d","series":"Mea. Co-pol.","angle":32,"dB":-0.4},{"panel":"d","series":"Mea. Co-pol.","angle":48,"dB":-1.8},{"panel":"d","series":"Mea. Co-pol.","angle":61,"dB":-2.6},{"panel":"d","series":"Mea. Co-pol.","angle":70,"dB":-3.5},{"panel":"d","series":"Mea. Co-pol.","angle":90,"dB":-2.2},{"panel":"d","series":"Mea. Co-pol.","angle":99,"dB":-3.6},{"panel":"d","series":"Mea. Co-pol.","angle":110,"dB":-0.5},{"panel":"d","series":"Mea. Co-pol.","angle":119,"dB":-0.9},{"panel":"d","series":"Mea. Co-pol.","angle":130,"dB":-1.2},{"panel":"d","series":"Mea. Co-pol.","angle":141,"dB":-2},{"panel":"d","series":"Mea. Co-pol.","angle":159,"dB":-2.4},{"panel":"d","series":"Mea. Co-pol.","angle":180,"dB":-1.4},{"panel":"d","series":"Mea. Co-pol.","angle":197,"dB":-1.9},{"panel":"d","series":"Mea. Co-pol.","angle":209,"dB":-2.7},{"panel":"d","series":"Mea. Co-pol.","angle":225,"dB":-3.3},{"panel":"d","series":"Mea. Co-pol.","angle":241,"dB":-2},{"panel":"d","series":"Mea. Co-pol.","angle":252,"dB":-2.3},{"panel":"d","series":"Mea. Co-pol.","angle":261,"dB":-3.6},{"panel":"d","series":"Mea. Co-pol.","angle":270,"dB":-1.3},{"panel":"d","series":"Mea. Co-pol.","angle":281,"dB":-1.7},{"panel":"d","series":"Mea. Co-pol.","angle":291,"dB":-1.8},{"panel":"d","series":"Mea. Co-pol.","angle":303,"dB":-2.6},{"panel":"d","series":"Mea. Co-pol.","angle":319,"dB":-2.6},{"panel":"d","series":"Mea. Co-pol.","angle":331,"dB":-2.1},{"panel":"d","series":"Mea. Co-pol.","angle":343,"dB":-1.3},
{"panel":"d","series":"Mea. X-pol.","angle":0,"dB":-35.7},{"panel":"d","series":"Mea. X-pol.","angle":10,"dB":-14.8},{"panel":"d","series":"Mea. X-pol.","angle":20,"dB":-7.7},{"panel":"d","series":"Mea. X-pol.","angle":30,"dB":-4.8},{"panel":"d","series":"Mea. X-pol.","angle":39,"dB":-1.5},{"panel":"d","series":"Mea. X-pol.","angle":50,"dB":-0.4},{"panel":"d","series":"Mea. X-pol.","angle":59,"dB":-2.9},{"panel":"d","series":"Mea. X-pol.","angle":70,"dB":-6},{"panel":"d","series":"Mea. X-pol.","angle":80,"dB":-9.1},{"panel":"d","series":"Mea. X-pol.","angle":90,"dB":-20},{"panel":"d","series":"Mea. X-pol.","angle":100,"dB":-30.9},{"panel":"d","series":"Mea. X-pol.","angle":110,"dB":-15.5},{"panel":"d","series":"Mea. X-pol.","angle":120,"dB":-10.4},{"panel":"d","series":"Mea. X-pol.","angle":128,"dB":-5.6},{"panel":"d","series":"Mea. X-pol.","angle":139,"dB":-3.6},{"panel":"d","series":"Mea. X-pol.","angle":149,"dB":-2.9},{"panel":"d","series":"Mea. X-pol.","angle":160,"dB":-1.6},{"panel":"d","series":"Mea. X-pol.","angle":170,"dB":-5.8},{"panel":"d","series":"Mea. X-pol.","angle":180,"dB":-26},{"panel":"d","series":"Mea. X-pol.","angle":190,"dB":-30.5},{"panel":"d","series":"Mea. X-pol.","angle":200,"dB":-15.4},{"panel":"d","series":"Mea. X-pol.","angle":210,"dB":-7.9},{"panel":"d","series":"Mea. X-pol.","angle":220,"dB":-5.6},{"panel":"d","series":"Mea. X-pol.","angle":230,"dB":-2.6},{"panel":"d","series":"Mea. X-pol.","angle":240,"dB":-2.7},{"panel":"d","series":"Mea. X-pol.","angle":250,"dB":-8.6},{"panel":"d","series":"Mea. X-pol.","angle":260,"dB":-12.6},{"panel":"d","series":"Mea. X-pol.","angle":270,"dB":-30.7},{"panel":"d","series":"Mea. X-pol.","angle":290,"dB":-11.1},{"panel":"d","series":"Mea. X-pol.","angle":300,"dB":-7.3},{"panel":"d","series":"Mea. X-pol.","angle":310,"dB":-4.7},{"panel":"d","series":"Mea. X-pol.","angle":320,"dB":-2.2},{"panel":"d","series":"Mea. X-pol.","angle":329,"dB":-1.9},{"panel":"d","series":"Mea. X-pol.","angle":341,"dB":-3.4},{"panel":"d","series":"Mea. X-pol.","angle":350,"dB":-6.5}
]},
"concat":[
{"width":1835,"height":1549.5,
"resolve":{"axis":{"y":"independent"}},
"title":{"text":"(a)","orient":"bottom","anchor":"middle","frame":"group","offset":-44.5,"dx":35.5,"baseline":"middle","font":"Liberation Serif","fontSize":78,"fontWeight":"normal","color":"black"},
"layer":[
{"data":{"values":[{"level":-52.5},{"level":-37.5},{"level":-22.5},{"level":-7.5}]},"mark":{"type":"arc","filled":false,"stroke":"#CFCFCF","strokeWidth":2,"strokeDash":[5,6],"theta":0,"theta2":6.2832},"encoding":{"x":{"datum":0,"type":"quantitative","scale":{"domain":[-1.59863,1.54889],"nice":false,"zero":false},"axis":null},"y":{"datum":0,"type":"quantitative","scale":{"domain":[-1.37307,1.28473],"nice":false,"zero":false},"axis":null},"radius":{"field":"level","type":"quantitative","scale":{"type":"linear","domain":[-65,0],"range":[0,583]}}}},
{"data":{"values":[{"level":-45},{"level":-30},{"level":-15}]},"mark":{"type":"arc","filled":false,"stroke":"#A6A6A6","strokeWidth":2.5,"theta":0,"theta2":6.2832},"encoding":{"x":{"datum":0,"type":"quantitative","scale":{"domain":[-1.59863,1.54889],"nice":false,"zero":false},"axis":null},"y":{"datum":0,"type":"quantitative","scale":{"domain":[-1.37307,1.28473],"nice":false,"zero":false},"axis":null},"radius":{"field":"level","type":"quantitative","scale":{"type":"linear","domain":[-65,0],"range":[0,583]}}}},
{"data":{"name":"ang15"},"transform":[{"calculate":"0.1923*sin(datum.angle*PI/180)","as":"x0"},{"calculate":"0.1923*cos(datum.angle*PI/180)","as":"y0"},{"calculate":"sin(datum.angle*PI/180)","as":"x1"},{"calculate":"cos(datum.angle*PI/180)","as":"y1"}],"mark":{"type":"rule","color":"#CFCFCF","strokeWidth":2,"strokeDash":[5,6]},"encoding":{"x":{"field":"x0","type":"quantitative","scale":{"domain":[-1.59863,1.54889],"nice":false,"zero":false},"axis":null},"y":{"field":"y0","type":"quantitative","scale":{"domain":[-1.37307,1.28473],"nice":false,"zero":false},"axis":null},"x2":{"field":"x1"},"y2":{"field":"y1"}}},
{"data":{"name":"ang30"},"transform":[{"calculate":"0.1923*sin(datum.angle*PI/180)","as":"x0"},{"calculate":"0.1923*cos(datum.angle*PI/180)","as":"y0"},{"calculate":"sin(datum.angle*PI/180)","as":"x1"},{"calculate":"cos(datum.angle*PI/180)","as":"y1"}],"mark":{"type":"rule","color":"#A6A6A6","strokeWidth":2.5},"encoding":{"x":{"field":"x0","type":"quantitative","scale":{"domain":[-1.59863,1.54889],"nice":false,"zero":false},"axis":null},"y":{"field":"y0","type":"quantitative","scale":{"domain":[-1.37307,1.28473],"nice":false,"zero":false},"axis":null},"x2":{"field":"x1"},"y2":{"field":"y1"}}},
{"data":{"values":[{"level":0}]},"mark":{"type":"arc","filled":false,"stroke":"black","strokeWidth":5,"theta":0,"theta2":6.2832},"encoding":{"x":{"datum":0,"type":"quantitative","scale":{"domain":[-1.59863,1.54889],"nice":false,"zero":false},"axis":null},"y":{"datum":0,"type":"quantitative","scale":{"domain":[-1.37307,1.28473],"nice":false,"zero":false},"axis":null},"radius":{"field":"level","type":"quantitative","scale":{"type":"linear","domain":[-65,0],"range":[0,583]}}}},
{"data":{"name":"angall"},"transform":[{"calculate":"datum.angle % 30 == 0 ? 0.965 : 0.982","as":"ti"},{"calculate":"datum.ti*sin(datum.angle*PI/180)","as":"x0"},{"calculate":"datum.ti*cos(datum.angle*PI/180)","as":"y0"},{"calculate":"sin(datum.angle*PI/180)","as":"x1"},{"calculate":"cos(datum.angle*PI/180)","as":"y1"}],"mark":{"type":"rule","color":"black","strokeWidth":5},"encoding":{"x":{"field":"x0","type":"quantitative","scale":{"domain":[-1.59863,1.54889],"nice":false,"zero":false},"axis":null},"y":{"field":"y0","type":"quantitative","scale":{"domain":[-1.37307,1.28473],"nice":false,"zero":false},"axis":null},"x2":{"field":"x1"},"y2":{"field":"y1"}}},
{"data":{"values":[{"edge":"top"}]},"mark":{"type":"rule","color":"black","strokeWidth":7},"encoding":{"x":{"datum":-1.30532,"type":"quantitative","scale":{"domain":[-1.59863,1.54889],"nice":false,"zero":false},"axis":null},"y":{"datum":-1,"type":"quantitative","scale":{"domain":[-1.37307,1.28473],"nice":false,"zero":false},"axis":null},"y2":{"datum":1}}},
{"data":{"name":"ang30"},"transform":[{"calculate":"datum.angle + ((floor(datum.angle/90) % 2 == 0) ? 1 : -1) * (min(datum.angle % 180, 180 - datum.angle % 180) == 30 ? 3 : (min(datum.angle % 180, 180 - datum.angle % 180) == 60 ? -1 : 0))","as":"la"},{"calculate":"1.04 + 0.035*length(''+datum.angle)*abs(sin(datum.angle*PI/180)) + 0.08*abs(cos(datum.angle*PI/180))","as":"lr"},{"calculate":"datum.lr*sin(datum.la*PI/180)","as":"lx"},{"calculate":"datum.lr*cos(datum.la*PI/180)","as":"ly"}],"mark":{"type":"text","font":"Liberation Sans","fontWeight":"bold","fontSize":77,"color":"black","align":"center","baseline":"middle"},"encoding":{"x":{"field":"lx","type":"quantitative","scale":{"domain":[-1.59863,1.54889],"nice":false,"zero":false},"axis":null},"y":{"field":"ly","type":"quantitative","scale":{"domain":[-1.37307,1.28473],"nice":false,"zero":false},"axis":null},"text":{"field":"angle","type":"nominal"}}},
{"data":{"name":"curves"},"transform":[{"filter":"datum.panel === 'a'"},{"calculate":"1 + datum.dB/65","as":"r"},{"calculate":"datum.r*sin(datum.angle*PI/180)","as":"px"},{"calculate":"datum.r*cos(datum.angle*PI/180)","as":"py"}],
"mark":{"type":"line","interpolate":"linear-closed","strokeWidth":16,"strokeCap":"round","strokeJoin":"round"},
"encoding":{"x":{"field":"px","type":"quantitative","scale":{"domain":[-1.59863,1.54889],"nice":false,"zero":false},"axis":null},
"y":{"field":"py","type":"quantitative","scale":{"domain":[-1.37307,1.28473],"nice":false,"zero":false},"axis":{"orient":"left","offset":-171,"domain":false,"grid":false,"title":null,"values":[1,0.884615,0.769231,0.653846,0.538462,0.423077,0.307692,0.192308,0.076923,-0.076923,-0.192308,-0.307692,-0.423077,-0.538462,-0.653846,-0.769231,-0.884615,-1],"labelExpr":"abs((1-abs(datum.value))*65/15 - round((1-abs(datum.value))*65/15)) < 0.02 ? '' + (-round((1-abs(datum.value))*65)) : ''","tickSize":22,"tickDash":{"condition":{"test":"abs((1-abs(datum.value))*65/15 - round((1-abs(datum.value))*65/15)) < 0.02","value":[1,0]},"value":[11,40]},"tickWidth":6,"tickColor":"black","labelColor":"black","labelFont":"Liberation Sans","labelFontWeight":"bold","labelFontSize":77,"labelPadding":12,"labelOverlap":false,"labelFlush":false}},
"order":{"field":"angle","type":"quantitative"},
"color":{"field":"series","type":"nominal","scale":{"domain":["Sim. Co-pol.","Sim. X-pol.","Mea. Co-pol.","Mea. X-pol."],"range":["#AA5500","#2E1800","#011A33","#0052A3"]},"legend":{"orient":"none","legendX":1367,"legendY":28,"title":null,"symbolType":"stroke","symbolSize":18769,"symbolStrokeWidth":16,"clipHeight":60,"labelFont":"Liberation Sans","labelFontWeight":"bold","labelFontSize":58,"labelColor":"black","labelOffset":0,"rowPadding":15,"padding":14,"strokeColor":"#808080","fillColor":"white","labelLimit":1000,"encode":{"symbols":{"update":{"strokeCap":{"value":"round"}}}}}},
"strokeDash":{"field":"series","type":"nominal","scale":{"domain":["Sim. Co-pol.","Sim. X-pol.","Mea. Co-pol.","Mea. X-pol."],"range":[[30,50],[56,40,0.1,40],[1,0],[1,0]]},"legend":{"orient":"none","legendX":1367,"legendY":28,"title":null,"symbolType":"stroke","symbolSize":18769,"symbolStrokeWidth":16,"clipHeight":60,"labelFont":"Liberation Sans","labelFontWeight":"bold","labelFontSize":58,"labelColor":"black","labelOffset":0,"rowPadding":15,"padding":14,"strokeColor":"#808080","fillColor":"white","labelLimit":1000,"encode":{"symbols":{"update":{"strokeCap":{"value":"round"}}}}}}}}
]},
{"width":1835,"height":1549.5,
"resolve":{"axis":{"y":"independent"}},
"title":{"text":"(b)","orient":"bottom","anchor":"middle","frame":"group","offset":-44.5,"dx":56.5,"baseline":"middle","font":"Liberation Serif","fontSize":78,"fontWeight":"normal","color":"black"},
"layer":[
{"data":{"values":[{"level":-50},{"level":-30},{"level":-10}]},"mark":{"type":"arc","filled":false,"stroke":"#CFCFCF","strokeWidth":2,"strokeDash":[5,6],"theta":0,"theta2":6.2832},"encoding":{"x":{"datum":0,"type":"quantitative","scale":{"domain":[-1.82383,1.25503],"nice":false,"zero":false},"axis":null},"y":{"datum":0,"type":"quantitative","scale":{"domain":[-1.38339,1.21644],"nice":false,"zero":false},"axis":null},"radius":{"field":"level","type":"quantitative","scale":{"type":"linear","domain":[-60,0],"range":[0,596]}}}},
{"data":{"values":[{"level":-40},{"level":-20}]},"mark":{"type":"arc","filled":false,"stroke":"#A6A6A6","strokeWidth":2.5,"theta":0,"theta2":6.2832},"encoding":{"x":{"datum":0,"type":"quantitative","scale":{"domain":[-1.82383,1.25503],"nice":false,"zero":false},"axis":null},"y":{"datum":0,"type":"quantitative","scale":{"domain":[-1.38339,1.21644],"nice":false,"zero":false},"axis":null},"radius":{"field":"level","type":"quantitative","scale":{"type":"linear","domain":[-60,0],"range":[0,596]}}}},
{"data":{"name":"ang15"},"transform":[{"calculate":"0.1667*sin(datum.angle*PI/180)","as":"x0"},{"calculate":"0.1667*cos(datum.angle*PI/180)","as":"y0"},{"calculate":"sin(datum.angle*PI/180)","as":"x1"},{"calculate":"cos(datum.angle*PI/180)","as":"y1"}],"mark":{"type":"rule","color":"#CFCFCF","strokeWidth":2,"strokeDash":[5,6]},"encoding":{"x":{"field":"x0","type":"quantitative","scale":{"domain":[-1.82383,1.25503],"nice":false,"zero":false},"axis":null},"y":{"field":"y0","type":"quantitative","scale":{"domain":[-1.38339,1.21644],"nice":false,"zero":false},"axis":null},"x2":{"field":"x1"},"y2":{"field":"y1"}}},
{"data":{"name":"ang30"},"transform":[{"calculate":"0.1667*sin(datum.angle*PI/180)","as":"x0"},{"calculate":"0.1667*cos(datum.angle*PI/180)","as":"y0"},{"calculate":"sin(datum.angle*PI/180)","as":"x1"},{"calculate":"cos(datum.angle*PI/180)","as":"y1"}],"mark":{"type":"rule","color":"#A6A6A6","strokeWidth":2.5},"encoding":{"x":{"field":"x0","type":"quantitative","scale":{"domain":[-1.82383,1.25503],"nice":false,"zero":false},"axis":null},"y":{"field":"y0","type":"quantitative","scale":{"domain":[-1.38339,1.21644],"nice":false,"zero":false},"axis":null},"x2":{"field":"x1"},"y2":{"field":"y1"}}},
{"data":{"values":[{"level":0}]},"mark":{"type":"arc","filled":false,"stroke":"black","strokeWidth":5,"theta":0,"theta2":6.2832},"encoding":{"x":{"datum":0,"type":"quantitative","scale":{"domain":[-1.82383,1.25503],"nice":false,"zero":false},"axis":null},"y":{"datum":0,"type":"quantitative","scale":{"domain":[-1.38339,1.21644],"nice":false,"zero":false},"axis":null},"radius":{"field":"level","type":"quantitative","scale":{"type":"linear","domain":[-60,0],"range":[0,596]}}}},
{"data":{"name":"angall"},"transform":[{"calculate":"datum.angle % 30 == 0 ? 0.965 : 0.982","as":"ti"},{"calculate":"datum.ti*sin(datum.angle*PI/180)","as":"x0"},{"calculate":"datum.ti*cos(datum.angle*PI/180)","as":"y0"},{"calculate":"sin(datum.angle*PI/180)","as":"x1"},{"calculate":"cos(datum.angle*PI/180)","as":"y1"}],"mark":{"type":"rule","color":"black","strokeWidth":5},"encoding":{"x":{"field":"x0","type":"quantitative","scale":{"domain":[-1.82383,1.25503],"nice":false,"zero":false},"axis":null},"y":{"field":"y0","type":"quantitative","scale":{"domain":[-1.38339,1.21644],"nice":false,"zero":false},"axis":null},"x2":{"field":"x1"},"y2":{"field":"y1"}}},
{"data":{"values":[{"edge":"top"}]},"mark":{"type":"rule","color":"black","strokeWidth":7},"encoding":{"x":{"datum":-1.29866,"type":"quantitative","scale":{"domain":[-1.82383,1.25503],"nice":false,"zero":false},"axis":null},"y":{"datum":-1,"type":"quantitative","scale":{"domain":[-1.38339,1.21644],"nice":false,"zero":false},"axis":null},"y2":{"datum":1}}},
{"data":{"name":"ang30"},"transform":[{"calculate":"datum.angle + ((floor(datum.angle/90) % 2 == 0) ? 1 : -1) * (min(datum.angle % 180, 180 - datum.angle % 180) == 30 ? 3 : (min(datum.angle % 180, 180 - datum.angle % 180) == 60 ? -1 : 0))","as":"la"},{"calculate":"1.04 + 0.035*length(''+datum.angle)*abs(sin(datum.angle*PI/180)) + 0.08*abs(cos(datum.angle*PI/180))","as":"lr"},{"calculate":"datum.lr*sin(datum.la*PI/180)","as":"lx"},{"calculate":"datum.lr*cos(datum.la*PI/180)","as":"ly"}],"mark":{"type":"text","font":"Liberation Sans","fontWeight":"bold","fontSize":78,"color":"black","align":"center","baseline":"middle"},"encoding":{"x":{"field":"lx","type":"quantitative","scale":{"domain":[-1.82383,1.25503],"nice":false,"zero":false},"axis":null},"y":{"field":"ly","type":"quantitative","scale":{"domain":[-1.38339,1.21644],"nice":false,"zero":false},"axis":null},"text":{"field":"angle","type":"nominal"}}},
{"data":{"name":"curves"},"transform":[{"filter":"datum.panel === 'b'"},{"calculate":"1 + datum.dB/60","as":"r"},{"calculate":"datum.r*sin(datum.angle*PI/180)","as":"px"},{"calculate":"datum.r*cos(datum.angle*PI/180)","as":"py"}],
"mark":{"type":"line","interpolate":"linear-closed","strokeWidth":16,"strokeCap":"round","strokeJoin":"round"},
"encoding":{"x":{"field":"px","type":"quantitative","scale":{"domain":[-1.82383,1.25503],"nice":false,"zero":false},"axis":null},
"y":{"field":"py","type":"quantitative","scale":{"domain":[-1.38339,1.21644],"nice":false,"zero":false},"axis":{"orient":"left","offset":-313,"domain":false,"grid":false,"title":null,"values":[1,0.833333,0.666667,0.5,0.333333,0.166667,0,-0.166667,-0.333333,-0.5,-0.666667,-0.833333,-1],"labelExpr":"abs((1-abs(datum.value))*3 - round((1-abs(datum.value))*3)) < 0.02 ? '' + (-round((1-abs(datum.value))*60)) : ''","tickSize":22,"tickDash":{"condition":{"test":"abs((1-abs(datum.value))*3 - round((1-abs(datum.value))*3)) < 0.02","value":[1,0]},"value":[11,40]},"tickWidth":6,"tickColor":"black","labelColor":"black","labelFont":"Liberation Sans","labelFontWeight":"bold","labelFontSize":84,"labelPadding":6,"labelOverlap":false,"labelFlush":false}},
"order":{"field":"angle","type":"quantitative"},
"color":{"field":"series","type":"nominal","scale":{"domain":["Sim. Co-pol.","Sim. X-pol.","Mea. Co-pol.","Mea. X-pol."],"range":["#AA5500","#2E1800","#011A33","#0052A3"]},"legend":{"orient":"none","legendX":1367,"legendY":28,"title":null,"symbolType":"stroke","symbolSize":18769,"symbolStrokeWidth":16,"clipHeight":60,"labelFont":"Liberation Sans","labelFontWeight":"bold","labelFontSize":58,"labelColor":"black","labelOffset":0,"rowPadding":15,"padding":14,"strokeColor":"#808080","fillColor":"white","labelLimit":1000,"encode":{"symbols":{"update":{"strokeCap":{"value":"round"}}}}}},
"strokeDash":{"field":"series","type":"nominal","scale":{"domain":["Sim. Co-pol.","Sim. X-pol.","Mea. Co-pol.","Mea. X-pol."],"range":[[30,50],[56,40,0.1,40],[1,0],[1,0]]},"legend":{"orient":"none","legendX":1367,"legendY":28,"title":null,"symbolType":"stroke","symbolSize":18769,"symbolStrokeWidth":16,"clipHeight":60,"labelFont":"Liberation Sans","labelFontWeight":"bold","labelFontSize":58,"labelColor":"black","labelOffset":0,"rowPadding":15,"padding":14,"strokeColor":"#808080","fillColor":"white","labelLimit":1000,"encode":{"symbols":{"update":{"strokeCap":{"value":"round"}}}}}}}}
]},
{"width":1835,"height":1549.5,
"resolve":{"axis":{"y":"independent"}},
"title":{"text":"(c)","orient":"bottom","anchor":"middle","frame":"group","offset":-63,"dx":35.5,"baseline":"middle","font":"Liberation Serif","fontSize":78,"fontWeight":"normal","color":"black"},
"layer":[
{"data":{"values":[{"level":-50},{"level":-30},{"level":-10}]},"mark":{"type":"arc","filled":false,"stroke":"#CFCFCF","strokeWidth":2,"strokeDash":[5,6],"theta":0,"theta2":6.2832},"encoding":{"x":{"datum":0,"type":"quantitative","scale":{"domain":[-1.78577,1.28536],"nice":false,"zero":false},"axis":null},"y":{"datum":0,"type":"quantitative","scale":{"domain":[-1.40669,1.18661],"nice":false,"zero":false},"axis":null},"radius":{"field":"level","type":"quantitative","scale":{"type":"linear","domain":[-60,0],"range":[0,597.5]}}}},
{"data":{"values":[{"level":-40},{"level":-20}]},"mark":{"type":"arc","filled":false,"stroke":"#A6A6A6","strokeWidth":2.5,"theta":0,"theta2":6.2832},"encoding":{"x":{"datum":0,"type":"quantitative","scale":{"domain":[-1.78577,1.28536],"nice":false,"zero":false},"axis":null},"y":{"datum":0,"type":"quantitative","scale":{"domain":[-1.40669,1.18661],"nice":false,"zero":false},"axis":null},"radius":{"field":"level","type":"quantitative","scale":{"type":"linear","domain":[-60,0],"range":[0,597.5]}}}},
{"data":{"name":"ang15"},"transform":[{"calculate":"0.1667*sin(datum.angle*PI/180)","as":"x0"},{"calculate":"0.1667*cos(datum.angle*PI/180)","as":"y0"},{"calculate":"sin(datum.angle*PI/180)","as":"x1"},{"calculate":"cos(datum.angle*PI/180)","as":"y1"}],"mark":{"type":"rule","color":"#CFCFCF","strokeWidth":2,"strokeDash":[5,6]},"encoding":{"x":{"field":"x0","type":"quantitative","scale":{"domain":[-1.78577,1.28536],"nice":false,"zero":false},"axis":null},"y":{"field":"y0","type":"quantitative","scale":{"domain":[-1.40669,1.18661],"nice":false,"zero":false},"axis":null},"x2":{"field":"x1"},"y2":{"field":"y1"}}},
{"data":{"name":"ang30"},"transform":[{"calculate":"0.1667*sin(datum.angle*PI/180)","as":"x0"},{"calculate":"0.1667*cos(datum.angle*PI/180)","as":"y0"},{"calculate":"sin(datum.angle*PI/180)","as":"x1"},{"calculate":"cos(datum.angle*PI/180)","as":"y1"}],"mark":{"type":"rule","color":"#A6A6A6","strokeWidth":2.5},"encoding":{"x":{"field":"x0","type":"quantitative","scale":{"domain":[-1.78577,1.28536],"nice":false,"zero":false},"axis":null},"y":{"field":"y0","type":"quantitative","scale":{"domain":[-1.40669,1.18661],"nice":false,"zero":false},"axis":null},"x2":{"field":"x1"},"y2":{"field":"y1"}}},
{"data":{"values":[{"level":0}]},"mark":{"type":"arc","filled":false,"stroke":"black","strokeWidth":5,"theta":0,"theta2":6.2832},"encoding":{"x":{"datum":0,"type":"quantitative","scale":{"domain":[-1.78577,1.28536],"nice":false,"zero":false},"axis":null},"y":{"datum":0,"type":"quantitative","scale":{"domain":[-1.40669,1.18661],"nice":false,"zero":false},"axis":null},"radius":{"field":"level","type":"quantitative","scale":{"type":"linear","domain":[-60,0],"range":[0,597.5]}}}},
{"data":{"name":"angall"},"transform":[{"calculate":"datum.angle % 30 == 0 ? 0.965 : 0.982","as":"ti"},{"calculate":"datum.ti*sin(datum.angle*PI/180)","as":"x0"},{"calculate":"datum.ti*cos(datum.angle*PI/180)","as":"y0"},{"calculate":"sin(datum.angle*PI/180)","as":"x1"},{"calculate":"cos(datum.angle*PI/180)","as":"y1"}],"mark":{"type":"rule","color":"black","strokeWidth":5},"encoding":{"x":{"field":"x0","type":"quantitative","scale":{"domain":[-1.78577,1.28536],"nice":false,"zero":false},"axis":null},"y":{"field":"y0","type":"quantitative","scale":{"domain":[-1.40669,1.18661],"nice":false,"zero":false},"axis":null},"x2":{"field":"x1"},"y2":{"field":"y1"}}},
{"data":{"values":[{"edge":"top"}]},"mark":{"type":"rule","color":"black","strokeWidth":7},"encoding":{"x":{"datum":-1.31046,"type":"quantitative","scale":{"domain":[-1.78577,1.28536],"nice":false,"zero":false},"axis":null},"y":{"datum":-1,"type":"quantitative","scale":{"domain":[-1.40669,1.18661],"nice":false,"zero":false},"axis":null},"y2":{"datum":1}}},
{"data":{"name":"ang30"},"transform":[{"calculate":"datum.angle + ((floor(datum.angle/90) % 2 == 0) ? 1 : -1) * (min(datum.angle % 180, 180 - datum.angle % 180) == 30 ? 3 : (min(datum.angle % 180, 180 - datum.angle % 180) == 60 ? -1 : 0))","as":"la"},{"calculate":"1.04 + 0.035*length(''+datum.angle)*abs(sin(datum.angle*PI/180)) + 0.08*abs(cos(datum.angle*PI/180))","as":"lr"},{"calculate":"datum.lr*sin(datum.la*PI/180)","as":"lx"},{"calculate":"datum.lr*cos(datum.la*PI/180)","as":"ly"}],"mark":{"type":"text","font":"Liberation Sans","fontWeight":"bold","fontSize":78,"color":"black","align":"center","baseline":"middle"},"encoding":{"x":{"field":"lx","type":"quantitative","scale":{"domain":[-1.78577,1.28536],"nice":false,"zero":false},"axis":null},"y":{"field":"ly","type":"quantitative","scale":{"domain":[-1.40669,1.18661],"nice":false,"zero":false},"axis":null},"text":{"field":"angle","type":"nominal"}}},
{"data":{"name":"curves"},"transform":[{"filter":"datum.panel === 'c'"},{"calculate":"1 + datum.dB/60","as":"r"},{"calculate":"datum.r*sin(datum.angle*PI/180)","as":"px"},{"calculate":"datum.r*cos(datum.angle*PI/180)","as":"py"}],
"mark":{"type":"line","interpolate":"linear-closed","strokeWidth":16,"strokeCap":"round","strokeJoin":"round"},
"encoding":{"x":{"field":"px","type":"quantitative","scale":{"domain":[-1.78577,1.28536],"nice":false,"zero":false},"axis":null},
"y":{"field":"py","type":"quantitative","scale":{"domain":[-1.40669,1.18661],"nice":false,"zero":false},"axis":{"orient":"left","offset":-284,"domain":false,"grid":false,"title":null,"values":[1,0.833333,0.666667,0.5,0.333333,0.166667,0,-0.166667,-0.333333,-0.5,-0.666667,-0.833333,-1],"labelExpr":"abs((1-abs(datum.value))*3 - round((1-abs(datum.value))*3)) < 0.02 ? '' + (-round((1-abs(datum.value))*60)) : ''","tickSize":22,"tickDash":{"condition":{"test":"abs((1-abs(datum.value))*3 - round((1-abs(datum.value))*3)) < 0.02","value":[1,0]},"value":[11,40]},"tickWidth":6,"tickColor":"black","labelColor":"black","labelFont":"Liberation Sans","labelFontWeight":"bold","labelFontSize":84,"labelPadding":6,"labelOverlap":false,"labelFlush":false}},
"order":{"field":"angle","type":"quantitative"},
"color":{"field":"series","type":"nominal","scale":{"domain":["Sim. Co-pol.","Sim. X-pol.","Mea. Co-pol.","Mea. X-pol."],"range":["#AA5500","#2E1800","#011A33","#0052A3"]},"legend":{"orient":"none","legendX":1367,"legendY":28,"title":null,"symbolType":"stroke","symbolSize":18769,"symbolStrokeWidth":16,"clipHeight":60,"labelFont":"Liberation Sans","labelFontWeight":"bold","labelFontSize":58,"labelColor":"black","labelOffset":0,"rowPadding":15,"padding":14,"strokeColor":"#808080","fillColor":"white","labelLimit":1000,"encode":{"symbols":{"update":{"strokeCap":{"value":"round"}}}}}},
"strokeDash":{"field":"series","type":"nominal","scale":{"domain":["Sim. Co-pol.","Sim. X-pol.","Mea. Co-pol.","Mea. X-pol."],"range":[[30,50],[56,40,0.1,40],[1,0],[1,0]]},"legend":{"orient":"none","legendX":1367,"legendY":28,"title":null,"symbolType":"stroke","symbolSize":18769,"symbolStrokeWidth":16,"clipHeight":60,"labelFont":"Liberation Sans","labelFontWeight":"bold","labelFontSize":58,"labelColor":"black","labelOffset":0,"rowPadding":15,"padding":14,"strokeColor":"#808080","fillColor":"white","labelLimit":1000,"encode":{"symbols":{"update":{"strokeCap":{"value":"round"}}}}}}}}
]},
{"width":1835,"height":1549.5,
"resolve":{"axis":{"y":"independent"}},
"title":{"text":"(d)","orient":"bottom","anchor":"middle","frame":"group","offset":-63,"dx":56.5,"baseline":"middle","font":"Liberation Serif","fontSize":78,"fontWeight":"normal","color":"black"},
"layer":[
{"data":{"values":[{"level":-50},{"level":-30},{"level":-10}]},"mark":{"type":"arc","filled":false,"stroke":"#CFCFCF","strokeWidth":2,"strokeDash":[5,6],"theta":0,"theta2":6.2832},"encoding":{"x":{"datum":0,"type":"quantitative","scale":{"domain":[-1.82,1.23833],"nice":false,"zero":false},"axis":null},"y":{"datum":0,"type":"quantitative","scale":{"domain":[-1.405,1.1775],"nice":false,"zero":false},"axis":null},"radius":{"field":"level","type":"quantitative","scale":{"type":"linear","domain":[-70,0],"range":[0,600]}}}},
{"data":{"values":[{"level":-60},{"level":-40},{"level":-20}]},"mark":{"type":"arc","filled":false,"stroke":"#A6A6A6","strokeWidth":2.5,"theta":0,"theta2":6.2832},"encoding":{"x":{"datum":0,"type":"quantitative","scale":{"domain":[-1.82,1.23833],"nice":false,"zero":false},"axis":null},"y":{"datum":0,"type":"quantitative","scale":{"domain":[-1.405,1.1775],"nice":false,"zero":false},"axis":null},"radius":{"field":"level","type":"quantitative","scale":{"type":"linear","domain":[-70,0],"range":[0,600]}}}},
{"data":{"name":"ang15"},"transform":[{"calculate":"0*sin(datum.angle*PI/180)","as":"x0"},{"calculate":"0*cos(datum.angle*PI/180)","as":"y0"},{"calculate":"sin(datum.angle*PI/180)","as":"x1"},{"calculate":"cos(datum.angle*PI/180)","as":"y1"}],"mark":{"type":"rule","color":"#CFCFCF","strokeWidth":2,"strokeDash":[5,6]},"encoding":{"x":{"field":"x0","type":"quantitative","scale":{"domain":[-1.82,1.23833],"nice":false,"zero":false},"axis":null},"y":{"field":"y0","type":"quantitative","scale":{"domain":[-1.405,1.1775],"nice":false,"zero":false},"axis":null},"x2":{"field":"x1"},"y2":{"field":"y1"}}},
{"data":{"name":"ang30"},"transform":[{"calculate":"0*sin(datum.angle*PI/180)","as":"x0"},{"calculate":"0*cos(datum.angle*PI/180)","as":"y0"},{"calculate":"sin(datum.angle*PI/180)","as":"x1"},{"calculate":"cos(datum.angle*PI/180)","as":"y1"}],"mark":{"type":"rule","color":"#A6A6A6","strokeWidth":2.5},"encoding":{"x":{"field":"x0","type":"quantitative","scale":{"domain":[-1.82,1.23833],"nice":false,"zero":false},"axis":null},"y":{"field":"y0","type":"quantitative","scale":{"domain":[-1.405,1.1775],"nice":false,"zero":false},"axis":null},"x2":{"field":"x1"},"y2":{"field":"y1"}}},
{"data":{"values":[{"level":0}]},"mark":{"type":"arc","filled":false,"stroke":"black","strokeWidth":5,"theta":0,"theta2":6.2832},"encoding":{"x":{"datum":0,"type":"quantitative","scale":{"domain":[-1.82,1.23833],"nice":false,"zero":false},"axis":null},"y":{"datum":0,"type":"quantitative","scale":{"domain":[-1.405,1.1775],"nice":false,"zero":false},"axis":null},"radius":{"field":"level","type":"quantitative","scale":{"type":"linear","domain":[-70,0],"range":[0,600]}}}},
{"data":{"name":"angall"},"transform":[{"calculate":"datum.angle % 30 == 0 ? 0.965 : 0.982","as":"ti"},{"calculate":"datum.ti*sin(datum.angle*PI/180)","as":"x0"},{"calculate":"datum.ti*cos(datum.angle*PI/180)","as":"y0"},{"calculate":"sin(datum.angle*PI/180)","as":"x1"},{"calculate":"cos(datum.angle*PI/180)","as":"y1"}],"mark":{"type":"rule","color":"black","strokeWidth":5},"encoding":{"x":{"field":"x0","type":"quantitative","scale":{"domain":[-1.82,1.23833],"nice":false,"zero":false},"axis":null},"y":{"field":"y0","type":"quantitative","scale":{"domain":[-1.405,1.1775],"nice":false,"zero":false},"axis":null},"x2":{"field":"x1"},"y2":{"field":"y1"}}},
{"data":{"values":[{"edge":"top"}]},"mark":{"type":"rule","color":"black","strokeWidth":7},"encoding":{"x":{"datum":-1.31333,"type":"quantitative","scale":{"domain":[-1.82,1.23833],"nice":false,"zero":false},"axis":null},"y":{"datum":-1,"type":"quantitative","scale":{"domain":[-1.405,1.1775],"nice":false,"zero":false},"axis":null},"y2":{"datum":1}}},
{"data":{"name":"ang30"},"transform":[{"calculate":"datum.angle + ((floor(datum.angle/90) % 2 == 0) ? 1 : -1) * (min(datum.angle % 180, 180 - datum.angle % 180) == 30 ? 3 : (min(datum.angle % 180, 180 - datum.angle % 180) == 60 ? -1 : 0))","as":"la"},{"calculate":"1.04 + 0.035*length(''+datum.angle)*abs(sin(datum.angle*PI/180)) + 0.08*abs(cos(datum.angle*PI/180))","as":"lr"},{"calculate":"datum.lr*sin(datum.la*PI/180)","as":"lx"},{"calculate":"datum.lr*cos(datum.la*PI/180)","as":"ly"}],"mark":{"type":"text","font":"Liberation Sans","fontWeight":"bold","fontSize":78,"color":"black","align":"center","baseline":"middle"},"encoding":{"x":{"field":"lx","type":"quantitative","scale":{"domain":[-1.82,1.23833],"nice":false,"zero":false},"axis":null},"y":{"field":"ly","type":"quantitative","scale":{"domain":[-1.405,1.1775],"nice":false,"zero":false},"axis":null},"text":{"field":"angle","type":"nominal"}}},
{"data":{"name":"curves"},"transform":[{"filter":"datum.panel === 'd'"},{"calculate":"1 + datum.dB/70","as":"r"},{"calculate":"datum.r*sin(datum.angle*PI/180)","as":"px"},{"calculate":"datum.r*cos(datum.angle*PI/180)","as":"py"}],
"mark":{"type":"line","interpolate":"linear-closed","strokeWidth":16,"strokeCap":"round","strokeJoin":"round"},
"encoding":{"x":{"field":"px","type":"quantitative","scale":{"domain":[-1.82,1.23833],"nice":false,"zero":false},"axis":null},
"y":{"field":"py","type":"quantitative","scale":{"domain":[-1.405,1.1775],"nice":false,"zero":false},"axis":{"orient":"left","offset":-304,"domain":false,"grid":false,"title":null,"values":[1,0.857143,0.714286,0.571429,0.428571,0.285714,0.142857,-0.142857,-0.285714,-0.428571,-0.571429,-0.714286,-0.857143,-1],"labelExpr":"abs((1-abs(datum.value))*3.5 - round((1-abs(datum.value))*3.5)) < 0.02 ? '' + (-round((1-abs(datum.value))*70)) : ''","tickSize":22,"tickDash":{"condition":{"test":"abs((1-abs(datum.value))*3.5 - round((1-abs(datum.value))*3.5)) < 0.02","value":[1,0]},"value":[11,40]},"tickWidth":6,"tickColor":"black","labelColor":"black","labelFont":"Liberation Sans","labelFontWeight":"bold","labelFontSize":84,"labelPadding":6,"labelOverlap":false,"labelFlush":false}},
"order":{"field":"angle","type":"quantitative"},
"color":{"field":"series","type":"nominal","scale":{"domain":["Sim. Co-pol.","Sim. X-pol.","Mea. Co-pol.","Mea. X-pol."],"range":["#AA5500","#2E1800","#011A33","#0052A3"]},"legend":{"orient":"none","legendX":1367,"legendY":28,"title":null,"symbolType":"stroke","symbolSize":18769,"symbolStrokeWidth":16,"clipHeight":60,"labelFont":"Liberation Sans","labelFontWeight":"bold","labelFontSize":58,"labelColor":"black","labelOffset":0,"rowPadding":15,"padding":14,"strokeColor":"#808080","fillColor":"white","labelLimit":1000,"encode":{"symbols":{"update":{"strokeCap":{"value":"round"}}}}}},
"strokeDash":{"field":"series","type":"nominal","scale":{"domain":["Sim. Co-pol.","Sim. X-pol.","Mea. Co-pol.","Mea. X-pol."],"range":[[30,50],[56,40,0.1,40],[1,0],[1,0]]},"legend":{"orient":"none","legendX":1367,"legendY":28,"title":null,"symbolType":"stroke","symbolSize":18769,"symbolStrokeWidth":16,"clipHeight":60,"labelFont":"Liberation Sans","labelFontWeight":"bold","labelFontSize":58,"labelColor":"black","labelOffset":0,"rowPadding":15,"padding":14,"strokeColor":"#808080","fillColor":"white","labelLimit":1000,"encode":{"symbols":{"update":{"strokeCap":{"value":"round"}}}}}}}}
]}
]
}
